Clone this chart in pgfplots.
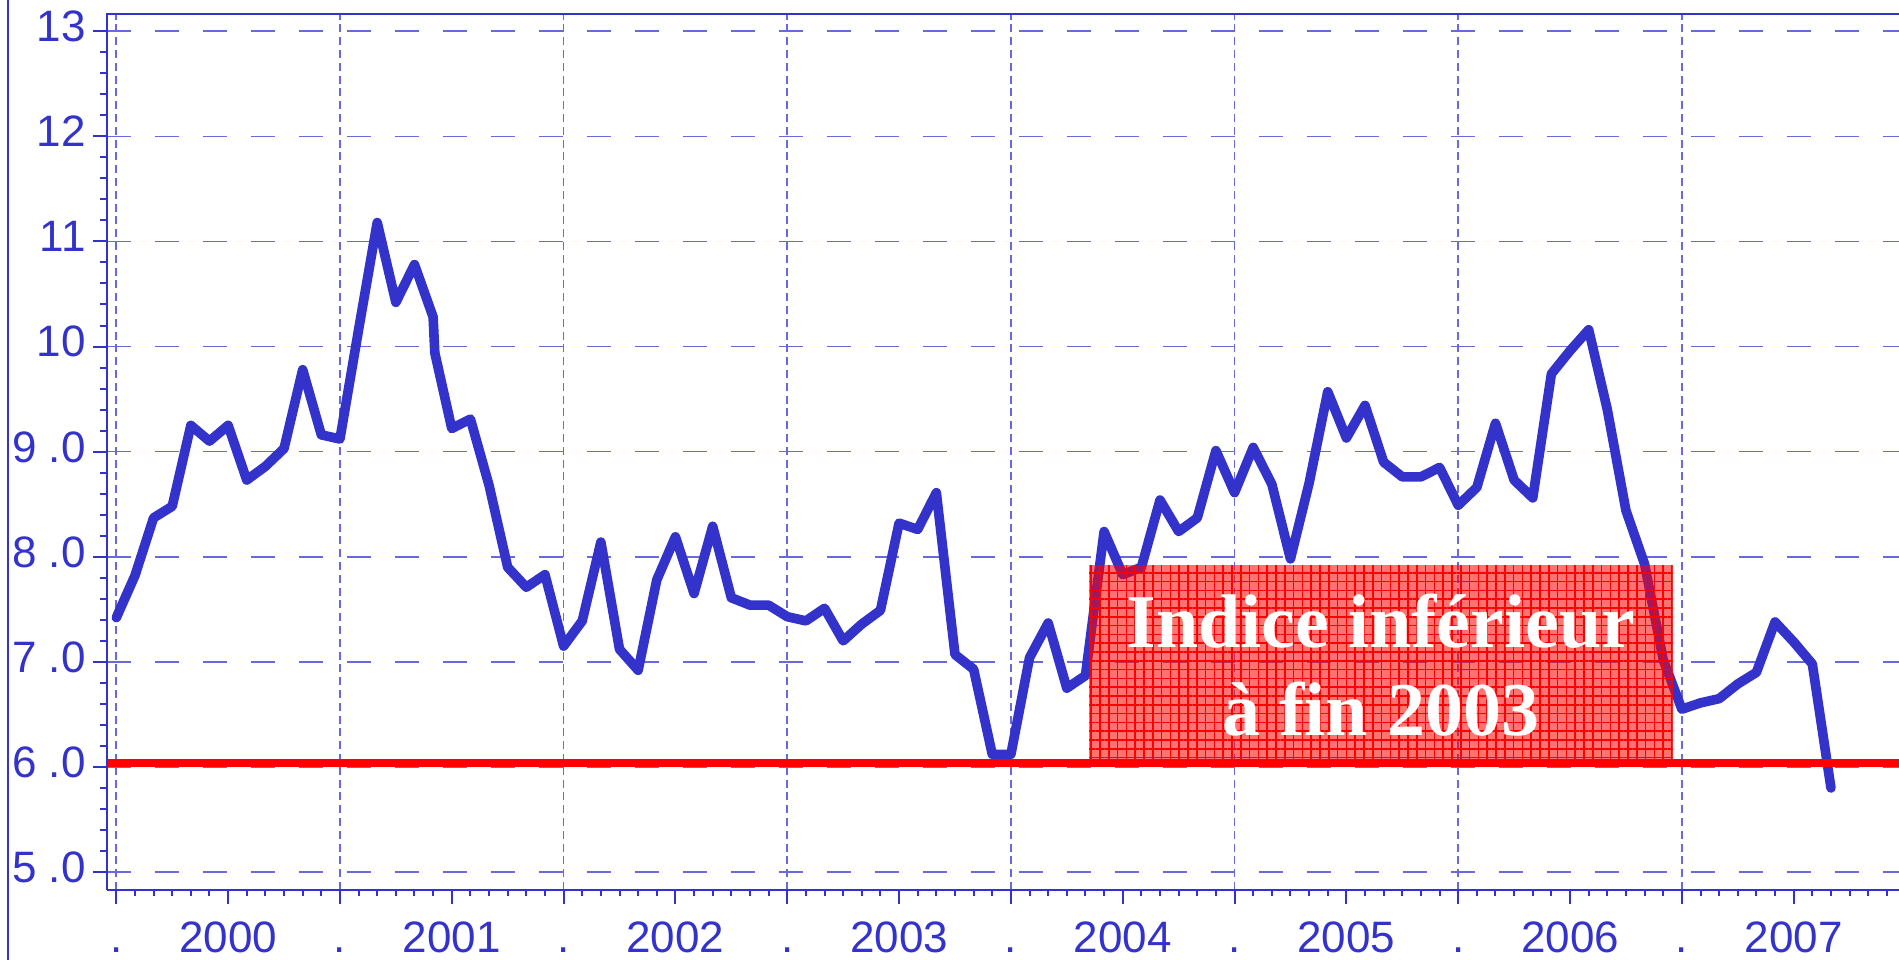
\documentclass[border=0pt]{standalone}
\usepackage{fontspec}
\setmainfont{Liberation Sans}
\newfontfamily\timesfont{Liberation Serif}
\usepackage{pgfplots}
\pgfplotsset{compat=1.18}
\usetikzlibrary{patterns.meta}
\definecolor{lineblue}{RGB}{51,51,204}
\definecolor{axisblue}{RGB}{51,51,204}
\definecolor{gridblue}{RGB}{105,105,222}

\begin{document}
\begin{tikzpicture}
\begin{axis}[
  at={(0,0)}, anchor=south west,
  scale only axis,
  width=448.1pt, height=218.9pt,
  xmin=-0.52, xmax=95.65,
  ymin=4.83, ymax=13.16,
  clip mode=individual,
  axis line style={draw=none},
  tick pos=left,
  tick align=outside,
  tick style={axisblue, line width=0.5pt},
  major tick length=3.5pt,
  minor tick length=1.6pt,
  xtick={6,18,...,90},
  xticklabels={2000,2001,2002,2003,2004,2005,2006,2007},
  extra x ticks={0,12,...,84},
  extra x tick labels={.,.,.,.,.,.,.,.},
  extra x tick style={xmajorgrids=true},
  minor xtick={0,1,...,95},
  ytick={5,6,...,13},
  yticklabels={5 .0,6 .0,7 .0,8 .0,9 .0,10,11,12,13},
  minor y tick num=4,
  ymajorgrids=true,
  major x grid style={gridblue, line width=0.4pt, dash pattern=on 2pt off 1.2pt},
  major y grid style={gridblue, line width=0.4pt, dash pattern=on 6pt off 6pt},
  typeset ticklabels with strut,
  tick label style={font=\fontsize{11}{13}\selectfont, text=axisblue},
  yticklabel style={xshift=1.8pt},
  xticklabel style={yshift=0.6pt},
]
\addplot[lineblue, line width=2.4pt, line join=round, line cap=round] coordinates {
(0,7.42) (1,7.82) (2,8.37) (3,8.48) (4,9.25) (5,9.10) (6,9.25) (7,8.73) (8,8.86) (9,9.03)
(10,9.78) (11,9.16) (12,9.12) (13,10.16) (14,11.18) (15,10.42) (16,10.78) (17,10.28) (17.09,9.94)
(18,9.22) (19,9.31) (20,8.68) (21,7.90) (22,7.71) (23,7.83) (24,7.15) (25,7.39) (26,8.14)
(27,7.12) (28,6.92) (29,7.78) (30,8.19) (31,7.65) (32,8.29) (33,7.61) (34,7.54) (35,7.54)
(36,7.43) (37,7.39) (38,7.51) (39,7.20) (40,7.36) (41,7.49) (42,8.32) (43,8.26) (44,8.61)
(45,7.07) (46,6.93) (47,6.12) (48,6.12) (49,7.04) (50,7.37) (51,6.75) (52,6.87) (53,8.24)
(54,7.83) (55,7.90) (56,8.54) (57,8.24) (58,8.37) (59,9.01) (60,8.61) (61,9.04) (62,8.69)
(63,7.98) (64,8.70) (65,9.57) (66,9.13) (67,9.44) (68,8.90) (69,8.76) (70,8.76) (71,8.85)
(72,8.49) (73,8.66) (74,9.27) (75,8.73) (76,8.56) (77,9.74) (78,9.96) (79,10.16) (80,9.40)
(81,8.44) (82,7.93) (83,7.02) (84,6.55) (85,6.61) (86,6.65) (87,6.79) (88,6.90) (89,7.38)
(90,7.19) (91,6.98) (92,5.80)
};
\fill[red, fill opacity=0.55] (axis cs:52.2,6.04) rectangle (axis cs:83.5,7.92);
\fill[pattern={Lines[angle=0,distance=2.2pt,line width=0.4pt]}, pattern color=red] (axis cs:52.2,6.04) rectangle (axis cs:83.5,7.92);
\fill[pattern={Lines[angle=90,distance=2.2pt,line width=0.4pt]}, pattern color=red] (axis cs:52.2,6.04) rectangle (axis cs:83.5,7.92);
\addplot[red, line width=2pt] coordinates {(-0.52,6.04) (95.65,6.04)};
\node[anchor=base, text=white, font=\timesfont\bfseries\fontsize{19}{22}\selectfont] at (axis cs:67.85,7.14) {Indice inférieur};
\node[anchor=base, text=white, font=\timesfont\bfseries\fontsize{19}{22}\selectfont] at (axis cs:67.85,6.30) {à fin 2003};
\draw[axisblue, line width=0.5pt] (rel axis cs:0,0) -- (rel axis cs:0,1) -- (rel axis cs:1,1);
\draw[axisblue, line width=0.5pt] (rel axis cs:0,0) -- (rel axis cs:1,0);
\end{axis}
\pgfresetboundingbox
\path[use as bounding box] (-26.65pt,-17.5pt) rectangle (448.1pt,222.5pt);
\draw[axisblue, line width=0.4pt] (-24.6pt,-17.5pt) -- (-24.6pt,222.5pt);
\end{tikzpicture}
\end{document}
